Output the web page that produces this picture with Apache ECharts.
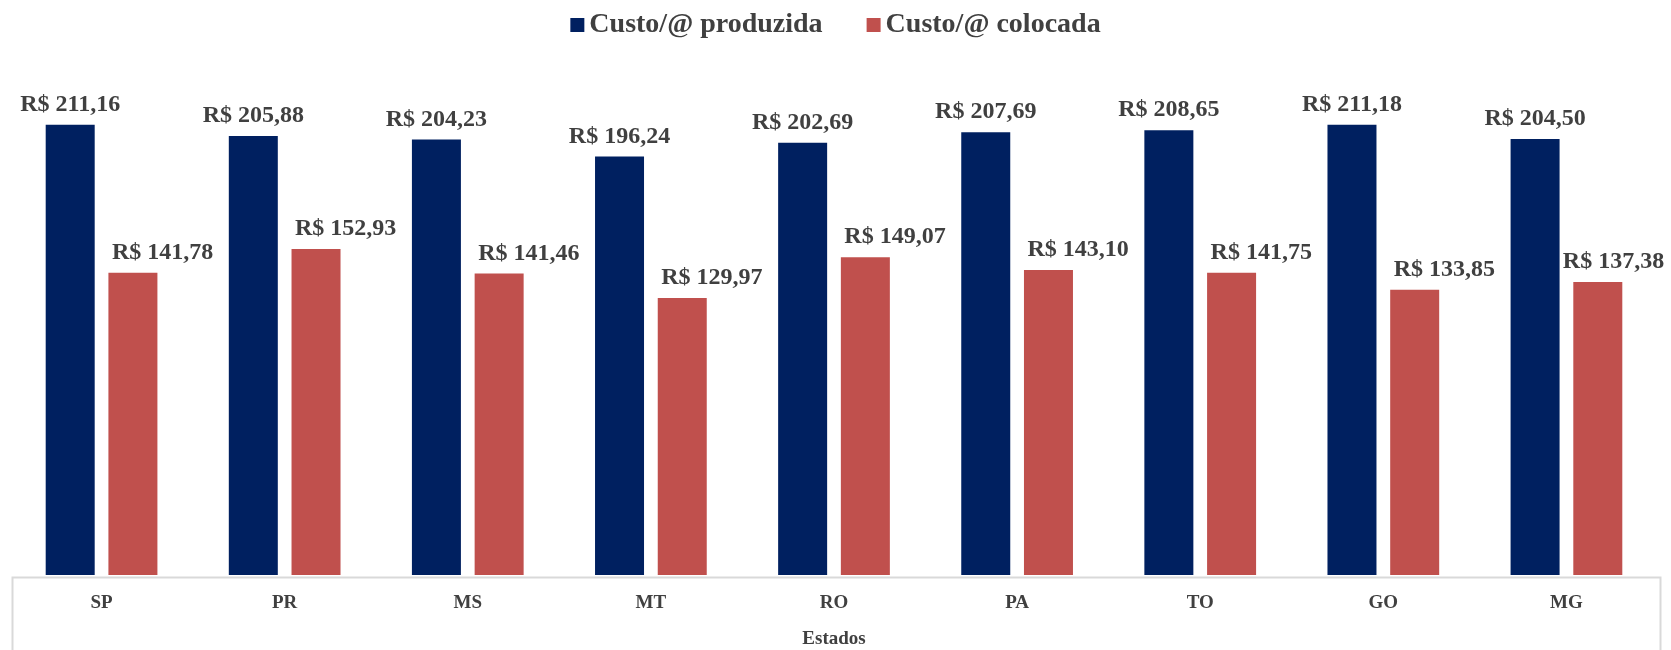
<!DOCTYPE html>
<html>
<head>
<meta charset="utf-8">
<script src="https://cdn.jsdelivr.net/npm/echarts@6/dist/echarts.min.js"></script>
<style>html,body{margin:0;padding:0;background:#fff}#c{width:1671px;height:650px}</style>
</head>
<body>
<div id="c"></div>
<script>
const categories = ['SP','PR','MS','MT','RO','PA','TO','GO','MG'];
const producedName = 'Custo/@ produzida';
const placedName = 'Custo/@ colocada';
const produced = [211.16, 205.88, 204.23, 196.24, 202.69, 207.69, 208.65, 211.18, 204.50];
const placed = [141.78, 152.93, 141.46, 129.97, 149.07, 143.10, 141.75, 133.85, 137.38];
const axisTitle = 'Estados';

const FONT = '"Liberation Serif", "DejaVu Serif", serif';
const TXT = '#404040';
const fmt = v => 'R$ ' + v.toFixed(2).replace('.', ',');

const chart = echarts.init(document.getElementById('c'));
// the last label is nudged left so it stays inside the canvas
const placedData = placed.map((v, i) =>
  i === placed.length - 1 ? { value: v, label: { offset: [-35, 0] } } : v);

chart.setOption({
  animation: false,
  textStyle: { fontFamily: FONT },
  legend: {
    top: 6, left: 'center',
    itemWidth: 14, itemHeight: 14, itemGap: 44,
    icon: 'rect',
    textStyle: { fontFamily: FONT, fontWeight: 'bold', fontSize: 28, color: TXT },
    data: [producedName, placedName]
  },
  grid: { left: 10, right: 13, top: 42, bottom: 75, containLabel: false, outerBoundsMode: 'none' },
  xAxis: {
    type: 'category', data: categories,
    axisLine: { show: false }, axisTick: { show: false },
    axisLabel: { margin: 19, fontFamily: FONT, fontWeight: 'bold', fontSize: 19, color: TXT },
    name: axisTitle, nameLocation: 'middle', nameGap: 55,
    nameTextStyle: { fontFamily: FONT, fontWeight: 'bold', fontSize: 19, color: TXT }
  },
  yAxis: { type: 'value', min: 0, max: 250, show: false, splitLine: { show: false } },
  series: [
    {
      name: producedName, type: 'bar', data: produced,
      barWidth: 49, barGap: '28%',
      itemStyle: { color: '#002060' },
      label: { show: true, position: 'top', distance: 8, formatter: p => fmt(p.value),
        fontFamily: FONT, fontWeight: 'bold', fontSize: 24, color: TXT }
    },
    {
      name: placedName, type: 'bar', data: placedData,
      barWidth: 49, barGap: '28%',
      itemStyle: { color: '#C0504D' },
      label: { show: true, position: 'top', distance: 8, align: 'left', offset: [-21, 0],
        formatter: p => fmt(p.value),
        fontFamily: FONT, fontWeight: 'bold', fontSize: 24, color: TXT }
    }
  ],
  graphic: [{
    type: 'rect', left: 10, top: 575, z: 100,
    shape: { width: 1648, height: 100 },
    style: { fill: 'none', stroke: '#d9d9d9', lineWidth: 2 }
  }]
});
</script>
</body>
</html>
